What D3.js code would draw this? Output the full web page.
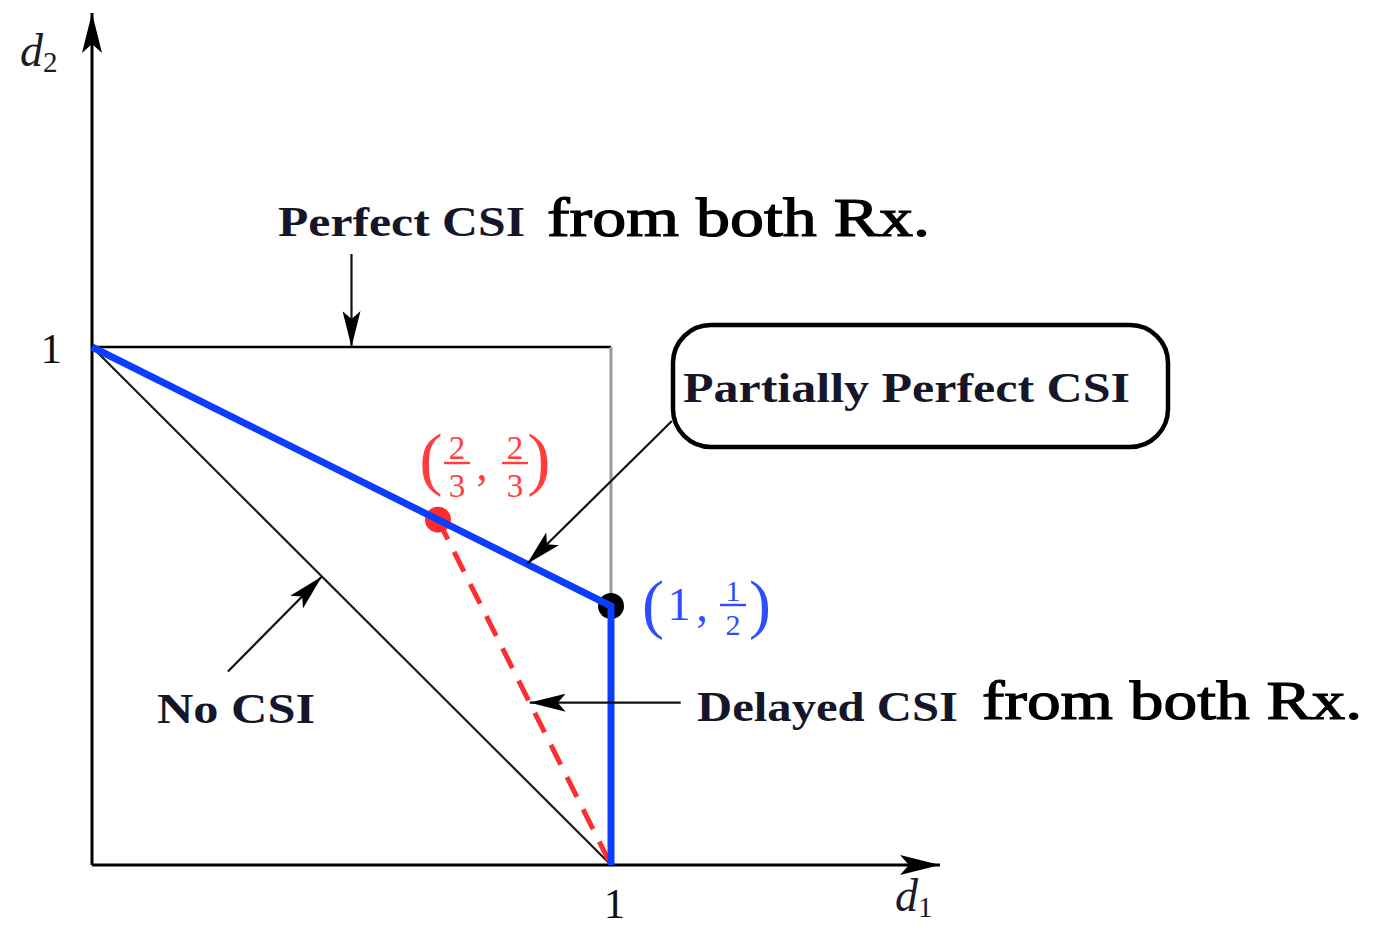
<!DOCTYPE html>
<html>
<head>
<meta charset="utf-8">
<script src="https://cdn.jsdelivr.net/npm/d3@7"></script>
<style>
  html, body { margin: 0; padding: 0; background: #fff; }
  svg { display: block; }
</style>
</head>
<body>
<svg id="chart" width="1392" height="929"></svg>
<script>
// Degrees-of-freedom region (d1, d2) for the two-user channel under different CSI assumptions.

// Axis tick labels
const xTicks = [1];
const yTicks = [1];
const axisLabels = ["d1", "d2"];

// Outer bound: perfect CSI from both receivers (unit square)
const perfectTop = [[0, 1], [1, 1]];
const perfectSide = [[1, 1], [1, 0.5]];
// No CSI: time-sharing line
const noCSI = [[0, 1], [1, 0]];
// Partially perfect CSI region boundary
const partialCSI = [[0, 1], [1, 0.5], [1, 0]];
// Delayed CSI from both receivers
const delayedCSI = [[2 / 3, 2 / 3], [1, 0]];
// Corner points
const cornerPoints = [
  { d1: 2 / 3, d2: 2 / 3, num: ["2", "2"], den: ["3", "3"], fill: "#ff2b2b", text: "#ff3d3d" },
  { d1: 1, d2: 1 / 2, num: [null, "1"], den: [null, "2"], whole: "1", fill: "#000", text: "#2f4dff" }
];

const svg = d3.select("#chart");

const x = d3.scaleLinear().domain([0, 1]).range([92, 611]);
const y = d3.scaleLinear().domain([0, 1]).range([865, 347]);
const xAxisEnd = 1.634;
const yAxisEnd = 1.645;

const BLUE = "#0b3cff";
const RED = "#ff2e2e";
const SERIF = "'Liberation Serif', 'DejaVu Serif', serif";

// Arrowhead markers
const defs = svg.append("defs");
function marker(id, len, wid) {
  defs.append("marker")
    .attr("id", id)
    .attr("markerUnits", "userSpaceOnUse")
    .attr("viewBox", `0 0 ${len} ${wid}`)
    .attr("markerWidth", len)
    .attr("markerHeight", wid)
    .attr("refX", len)
    .attr("refY", wid / 2)
    .attr("orient", "auto")
    .append("path")
    .attr("d", `M0,0 L${len},${wid / 2} L0,${wid} L${len * 0.22},${wid / 2} Z`)
    .attr("fill", "#000");
}
marker("axisArrow", 40, 20);
marker("noteArrow", 36, 18);

const line = d3.line().x(d => x(d[0])).y(d => y(d[1]));

// Axes
svg.append("path")
  .attr("d", line([[0, 0], [xAxisEnd, 0]]))
  .attr("stroke", "#000").attr("stroke-width", 3).attr("fill", "none")
  .attr("marker-end", "url(#axisArrow)");
svg.append("path")
  .attr("d", line([[0, 0], [0, yAxisEnd]]))
  .attr("stroke", "#000").attr("stroke-width", 3).attr("fill", "none")
  .attr("marker-end", "url(#axisArrow)");

const xAxis = d3.axisBottom(x).tickValues(xTicks).tickSize(0).tickPadding(22).tickFormat(d3.format("d"));
const yAxis = d3.axisLeft(y).tickValues(yTicks).tickSize(0).tickPadding(30).tickFormat(d3.format("d"));
const gx = svg.append("g").attr("transform", `translate(0,${y(0)})`).call(xAxis);
const gy = svg.append("g").attr("transform", `translate(${x(0)},0)`).call(yAxis);
[gx, gy].forEach(g => {
  g.select(".domain").remove();
  g.selectAll("text").attr("font-family", SERIF).attr("font-size", 43).attr("fill", "#111");
});
gx.selectAll("text").attr("dy", "0.71em").attr("dx", 3);
gy.selectAll("text").attr("dy", "0.36em");

// Axis names d1 / d2
function axisName(px, py, sub) {
  const t = svg.append("text").attr("x", px).attr("y", py)
    .attr("font-family", SERIF).attr("font-style", "italic").attr("font-size", 46).attr("fill", "#1a1a2a");
  t.append("tspan").text("d");
  t.append("tspan").attr("font-size", 29).attr("font-style", "normal").attr("dy", 6).text(sub);
}
axisName(20, 66, axisLabels[1].slice(1));
axisName(895, 911, axisLabels[0].slice(1));

// Perfect CSI bound
svg.append("path").attr("d", line(perfectTop))
  .attr("stroke", "#000").attr("stroke-width", 2.5).attr("fill", "none");
svg.append("path").attr("d", line(perfectSide))
  .attr("stroke", "#9a9a9a").attr("stroke-width", 3).attr("fill", "none");

// No CSI line
svg.append("path").attr("d", line(noCSI))
  .attr("stroke", "#1a1a1a").attr("stroke-width", 2.2).attr("fill", "none");

// Delayed CSI dashed segment
svg.append("path").attr("d", line(delayedCSI))
  .attr("stroke", RED).attr("stroke-width", 5).attr("fill", "none")
  .attr("stroke-dasharray", "22,14");

// Corner point dots
svg.selectAll("circle.corner").data(cornerPoints).join("circle")
  .attr("class", "corner")
  .attr("cx", d => x(d.d1)).attr("cy", d => y(d.d2))
  .attr("r", 13).attr("fill", d => d.fill);

// Partially perfect CSI boundary
svg.append("path").attr("d", line(partialCSI))
  .attr("stroke", BLUE).attr("stroke-width", 7).attr("fill", "none")
  .attr("stroke-linejoin", "miter");

// Corner point coordinate labels
function glyph(g, px, py, ch, size, color) {
  g.append("text").attr("x", px).attr("y", py).attr("text-anchor", "middle")
    .attr("font-family", SERIF).attr("font-size", size).attr("fill", color).text(ch);
}
// Stacked fraction: numerator above the bar, denominator one line below it
function frac(g, cx, barY, num, den, size, color) {
  const top = barY - 4;
  glyph(g, cx, top, num, size, color);
  glyph(g, cx, top + size * 1.14, den, size, color);
  g.append("line").attr("x1", cx - 13).attr("x2", cx + 13).attr("y1", barY).attr("y2", barY)
    .attr("stroke", color).attr("stroke-width", 2.4);
}

// (2/3, 2/3)
{
  const p = cornerPoints[0];
  const g = svg.append("g");
  glyph(g, 431, 482, "(", 70, p.text);
  frac(g, 457, 463, p.num[0], p.den[0], 33, p.text);
  glyph(g, 482, 480, ",", 44, p.text);
  frac(g, 515, 463, p.num[1], p.den[1], 33, p.text);
  glyph(g, 539, 482, ")", 70, p.text);
}
// (1, 1/2)
{
  const p = cornerPoints[1];
  const g = svg.append("g");
  glyph(g, 653, 626, "(", 66, p.text);
  glyph(g, 679, 620, p.whole, 46, p.text);
  glyph(g, 702, 621, ",", 46, p.text);
  frac(g, 733, 605, p.num[1], p.den[1], 30, p.text);
  glyph(g, 760, 626, ")", 66, p.text);
}

// Annotation labels
function label(px, py, txt, len, opts = {}) {
  svg.append("text").attr("x", px).attr("y", py)
    .attr("font-family", SERIF)
    .attr("font-weight", opts.weight || "bold")
    .attr("font-size", opts.size || 42)
    .attr("fill", opts.color || "#16162a")
    .attr("stroke", opts.color || "#16162a")
    .attr("stroke-width", opts.stroke || 0)
    .attr("textLength", len).attr("lengthAdjust", "spacingAndGlyphs")
    .text(txt);
}
label(278, 236, "Perfect CSI", 247);
label(547, 236, "from both Rx.", 383, { size: 54, color: "#000", weight: "normal", stroke: 1.2 });
label(683, 402, "Partially Perfect CSI", 447);
label(157, 723, "No CSI", 158);
label(697, 721, "Delayed CSI", 261);
label(982, 719, "from both Rx.", 380, { size: 54, color: "#000", weight: "normal", stroke: 1.2 });

// Rounded box around the partially perfect CSI label
svg.append("rect")
  .attr("x", 673).attr("y", 325).attr("width", 495).attr("height", 122)
  .attr("rx", 38).attr("ry", 38)
  .attr("fill", "none").attr("stroke", "#000").attr("stroke-width", 4.5);

// Annotation arrows: tip on a data curve, tail offset in pixels
function along(seg, t) {
  return [seg[0][0] + (seg[1][0] - seg[0][0]) * t, seg[0][1] + (seg[1][1] - seg[0][1]) * t];
}
const notes = [
  { tip: along(perfectTop, 0.5), dx: 0, dy: -93 },
  { tip: along(partialCSI.slice(0, 2), 0.838), dx: 145, dy: -143 },
  { tip: along(noCSI, 0.443), dx: -94, dy: 95 },
  { tip: along(delayedCSI, 0.53), dx: 151, dy: 0 }
];
svg.selectAll("path.note").data(notes).join("path")
  .attr("class", "note")
  .attr("d", d => {
    const tx = x(d.tip[0]), ty = y(d.tip[1]);
    return `M${tx + d.dx},${ty + d.dy}L${tx},${ty}`;
  })
  .attr("stroke", "#111").attr("stroke-width", 2.2).attr("fill", "none")
  .attr("marker-end", "url(#noteArrow)");
</script>
</body>
</html>
